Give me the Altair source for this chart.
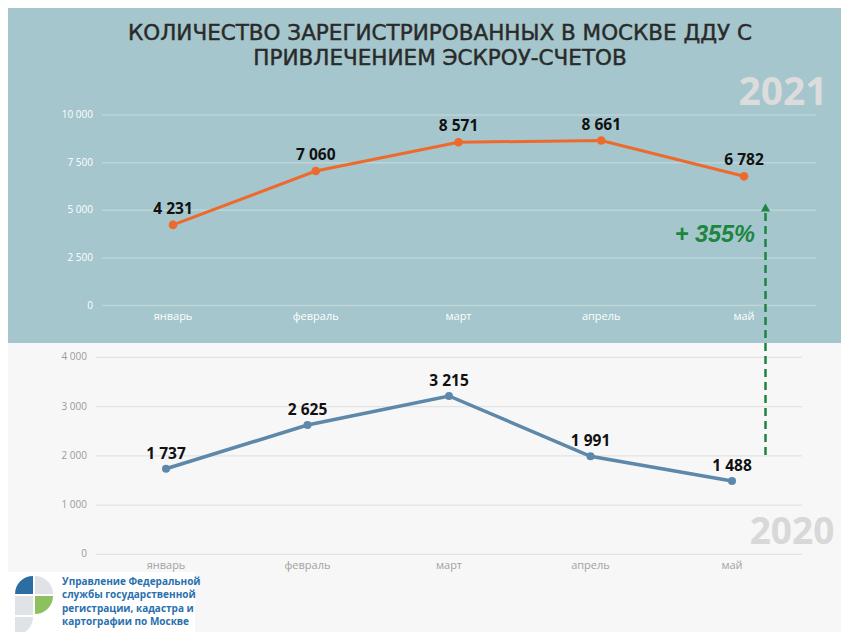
import altair as alt
import pandas as pd

# ---------------- data ----------------
months = ["январь", "февраль", "март", "апрель", "май"]
vals_2021 = [4231, 7060, 8571, 8661, 6782]
vals_2020 = [1737, 2625, 3215, 1991, 1488]
ticks_2021 = [0, 2500, 5000, 7500, 10000]
ticks_2020 = [0, 1000, 2000, 3000, 4000]
title_lines = ["КОЛИЧЕСТВО ЗАРЕГИСТРИРОВАННЫХ В МОСКВЕ ДДУ С",
               "ПРИВЛЕЧЕНИЕМ ЭСКРОУ-СЧЕТОВ"]
year_top = "2021"
year_bottom = "2020"
growth_label = "+ 355%"
org_lines = ["Управление Федеральной", "службы государственной",
             "регистрации, кадастра и", "картографии по Москве"]


def fmt(v):
    return f"{v:,}".replace(",", " ")


W, H = 833, 624
TEAL = "#a4c6cc"
BG = "#f7f7f7"
ORANGE = "#ee6a2c"
BLUE = "#5d88a9"
GREEN = "#1d8540"

df21 = pd.DataFrame({"m": months, "v": vals_2021, "lab": [fmt(v) for v in vals_2021]})
df20 = pd.DataFrame({"m": months, "v": vals_2020, "lab": [fmt(v) for v in vals_2020]})
t21 = pd.DataFrame({"v": ticks_2021, "lab": [fmt(v) for v in ticks_2021]})
t20 = pd.DataFrame({"v": ticks_2020, "lab": [fmt(v) for v in ticks_2020]})
one = pd.DataFrame({"k": [0]})

xs_top = alt.Scale(type="point", domain=months, range=[165, 736], padding=0)
ys_top = alt.Scale(domain=[0, 10000], range=[297.5, 107], nice=False, zero=False)
xs_bot = alt.Scale(type="point", domain=months, range=[158, 724], padding=0)
ys_bot = alt.Scale(domain=[0, 4000], range=[546.3, 349.3], nice=False, zero=False)

layers = []

# backgrounds
layers.append(alt.Chart(one).mark_rect(color=TEAL).encode(
    x=alt.value(0), x2=alt.value(W), y=alt.value(0), y2=alt.value(335)))
layers.append(alt.Chart(one).mark_rect(color="#ffffff").encode(
    x=alt.value(0), x2=alt.value(187), y=alt.value(564), y2=alt.value(H)))

# title
layers.append(alt.Chart(one).mark_text(
    font="DejaVu Sans", fontSize=21.5, fontWeight="normal", color="#2a2a2a",
    stroke="#2a2a2a", strokeWidth=0.45,
    align="center", baseline="alphabetic", lineHeight=25).encode(
    x=alt.value(432), y=alt.value(32), text=alt.value(title_lines)))

# big years
layers.append(alt.Chart(one).mark_text(
    font="Open Sans", fontSize=39, fontWeight="bold", color="#dcdcdc",
    align="center", baseline="alphabetic").encode(
    x=alt.value(775), y=alt.value(97), text=alt.value(year_top)))
layers.append(alt.Chart(one).mark_text(
    font="Open Sans", fontSize=37, fontWeight="bold", color="#d8d8d8",
    align="center", baseline="alphabetic").encode(
    x=alt.value(784), y=alt.value(536), text=alt.value(year_bottom)))

# ---------- top chart (2021) ----------
layers.append(alt.Chart(t21).mark_rule(color="#bcd5d9", strokeWidth=1.5).encode(
    y=alt.Y("v:Q", scale=ys_top, axis=None), x=alt.value(94), x2=alt.value(808)))
layers.append(alt.Chart(t21).mark_text(
    font="Open Sans", fontSize=10, color="#ffffff", align="right", baseline="middle").encode(
    y=alt.Y("v:Q", scale=ys_top, axis=None), x=alt.value(85), text="lab:N"))
layers.append(alt.Chart(df21).mark_line(color=ORANGE, strokeWidth=3).encode(
    x=alt.X("m:N", scale=xs_top, axis=None), y=alt.Y("v:Q", scale=ys_top, axis=None)))
layers.append(alt.Chart(df21).mark_circle(color=ORANGE, opacity=1, size=75).encode(
    x=alt.X("m:N", scale=xs_top, axis=None), y=alt.Y("v:Q", scale=ys_top, axis=None)))
layers.append(alt.Chart(df21).mark_text(
    font="Open Sans", fontSize=15.5, fontWeight="bold", color="#111111", dy=-16,
    baseline="middle").encode(
    x=alt.X("m:N", scale=xs_top, axis=None), y=alt.Y("v:Q", scale=ys_top, axis=None),
    text="lab:N"))
layers.append(alt.Chart(df21).mark_text(
    font="Open Sans", fontSize=11, color="#ffffff", baseline="middle").encode(
    x=alt.X("m:N", scale=xs_top, axis=None), y=alt.value(308.7), text="m:N"))

# ---------- bottom chart (2020) ----------
layers.append(alt.Chart(t20).mark_rule(color="#e3e3e3", strokeWidth=1.2).encode(
    y=alt.Y("v:Q", scale=ys_bot, axis=None), x=alt.value(88), x2=alt.value(794)))
layers.append(alt.Chart(t20).mark_text(
    font="Open Sans", fontSize=10, color="#9a9a9a", align="right", baseline="middle").encode(
    y=alt.Y("v:Q", scale=ys_bot, axis=None), x=alt.value(79), text="lab:N"))
layers.append(alt.Chart(df20).mark_line(color=BLUE, strokeWidth=3.5).encode(
    x=alt.X("m:N", scale=xs_bot, axis=None), y=alt.Y("v:Q", scale=ys_bot, axis=None)))
layers.append(alt.Chart(df20).mark_circle(color=BLUE, opacity=1, size=65).encode(
    x=alt.X("m:N", scale=xs_bot, axis=None), y=alt.Y("v:Q", scale=ys_bot, axis=None)))
layers.append(alt.Chart(df20).mark_text(
    font="Open Sans", fontSize=15.5, fontWeight="bold", color="#111111", dy=-15,
    baseline="middle").encode(
    x=alt.X("m:N", scale=xs_bot, axis=None), y=alt.Y("v:Q", scale=ys_bot, axis=None),
    text="lab:N"))
layers.append(alt.Chart(df20).mark_text(
    font="Open Sans", fontSize=11, color="#a2a2a2", baseline="middle").encode(
    x=alt.X("m:N", scale=xs_bot, axis=None), y=alt.value(557.7), text="m:N"))

# ---------- growth arrow ----------
layers.append(alt.Chart(one).mark_rule(color=GREEN, strokeWidth=2.5, strokeDash=[8, 5]).encode(
    x=alt.value(757.5), y=alt.value(205), y2=alt.value(450)))
layers.append(alt.Chart(one).mark_point(shape="triangle-up", filled=True, size=85,
                                        color=GREEN, opacity=1).encode(
    x=alt.value(757.5), y=alt.value(199.5)))
layers.append(alt.Chart(one).mark_text(
    font="Liberation Sans", fontSize=23.5, fontWeight="bold", fontStyle="italic",
    color=GREEN, align="right", baseline="middle").encode(
    x=alt.value(747), y=alt.value(227), text=alt.value(growth_label)))

# ---------- logo ----------
PI = 3.141592653589793
logo_pieces = [
    (25, 586, 1.5 * PI, 2 * PI, "#2c6ea3"),
    (27, 586, 0, 0.5 * PI, "#dfe3e7"),
    (27, 588, 0.5 * PI, PI, "#8dc05e"),
    (7, 609, 0.5 * PI, PI, "#dfe3e7"),
]
for cx, cy, a0, a1, col in logo_pieces:
    layers.append(alt.Chart(one).mark_arc(radius=18, theta=a0, theta2=a1, color=col).encode(
        x=alt.value(cx), y=alt.value(cy)))
layers.append(alt.Chart(one).mark_rect(color="#dfe3e7").encode(
    x=alt.value(7), x2=alt.value(25), y=alt.value(588), y2=alt.value(607)))
layers.append(alt.Chart(one).mark_text(
    font="Open Sans", fontSize=10, fontWeight="bold", color="#2a70ae",
    align="left", baseline="alphabetic", lineHeight=13.3).encode(
    x=alt.value(54), y=alt.value(577), text=alt.value(org_lines)))

chart = alt.layer(*layers).resolve_scale(x="independent", y="independent").properties(
    width=W, height=H, autosize=alt.AutoSizeParams(type="none"), padding=0,
    background=BG).configure_view(stroke=None)

chart.save("out.html", embed_options={"renderer": "svg", "actions": False})
